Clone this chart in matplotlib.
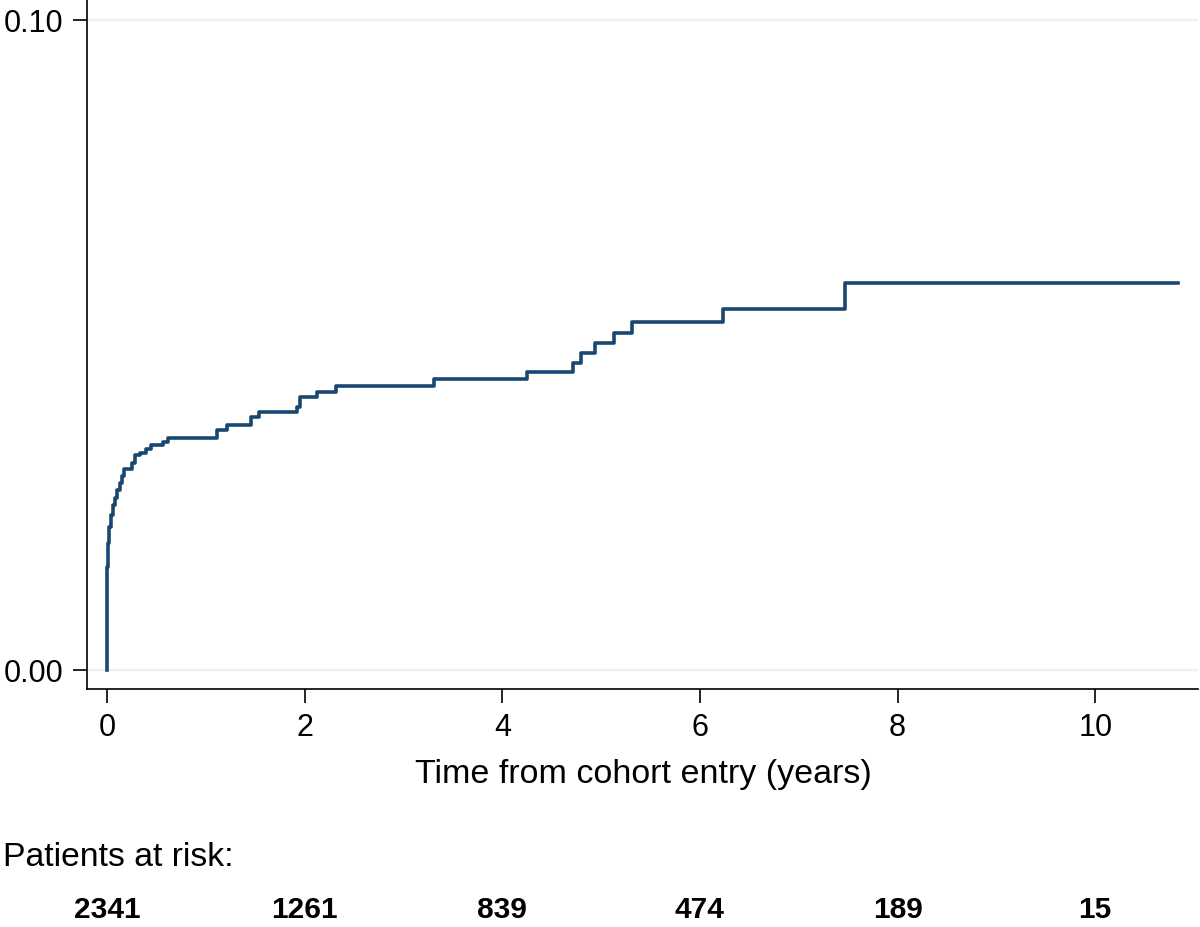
import matplotlib.pyplot as plt
from matplotlib.transforms import blended_transform_factory

plt.rcParams['font.family'] = ['Liberation Sans', 'DejaVu Sans']

# cumulative incidence step curve (time in years, value after each step)
times = [0.0, 0.0, 0.01, 0.02, 0.04, 0.06, 0.08, 0.10, 0.13, 0.15, 0.17,
         0.25, 0.28, 0.33, 0.40, 0.45, 0.57, 0.62, 1.11, 1.21, 1.46, 1.54,
         1.92, 1.95, 2.13, 2.32, 3.31, 4.25, 4.72, 4.80, 4.94, 5.13, 5.31,
         6.23, 7.47, 10.84]
values = [0.0, 0.0158, 0.0195, 0.0220, 0.0238, 0.0254, 0.0265, 0.0277,
          0.0288, 0.0298, 0.0309, 0.0318, 0.0331, 0.0334, 0.0340, 0.0346,
          0.0351, 0.0357, 0.0369, 0.0377, 0.0389, 0.0397, 0.0405, 0.0420,
          0.0428, 0.0437, 0.0448, 0.0458, 0.0472, 0.0488, 0.0503, 0.0518,
          0.0535, 0.0555, 0.0595, 0.0595]

risk_times = [0, 2, 4, 6, 8, 10]
at_risk = ['2341', '1261', '839', '474', '189', '15']

fig = plt.figure(figsize=(12, 9.27), dpi=100)
ax = fig.add_axes([87 / 1200, 1 - 689 / 927, (1198 - 87) / 1200, 689 / 927])

for g in [0.0, 0.1]:
    ax.axhline(g, color='#eaf2f3', lw=1.6, zorder=0)

ax.step(times, values, where='post', color='#1a476f', lw=2.6)

ax.set_xlim(-0.202, 11.04)
ax.set_ylim(-0.00292, 0.10308)
ax.set_xticks([0, 2, 4, 6, 8, 10])
ax.set_yticks([0.0, 0.1])
ax.set_yticklabels(['0.00', '0.10'])
ax.tick_params(axis='both', labelsize=22, length=10, width=1.2, pad=7)

for s in ['top', 'right']:
    ax.spines[s].set_visible(False)
for s in ['left', 'bottom']:
    ax.spines[s].set_linewidth(1.2)

fig.text(643 / 1200, 1 - 775 / 927, 'Time from cohort entry (years)',
         ha='center', va='center', fontsize=24.5)
fig.text(3 / 1200, 1 - 858 / 927, 'Patients at risk:',
         ha='left', va='center', fontsize=24.3)

tr = blended_transform_factory(ax.transData, fig.transFigure)
for t, n in zip(risk_times, at_risk):
    ax.text(t, 1 - 910 / 927, n, transform=tr, ha='center', va='center',
            fontsize=21.5, fontweight='bold', clip_on=False)

fig.savefig('out.png', dpi=100)
